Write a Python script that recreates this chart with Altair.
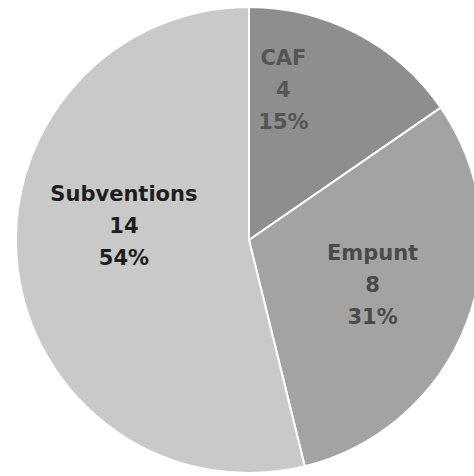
import altair as alt
import pandas as pd

categories = ["CAF", "Empunt", "Subventions"]
values = [4, 8, 14]
percents = ["15%", "31%", "54%"]
colors = ["#8e8e8e", "#a3a3a3", "#c9c9c9"]

df = pd.DataFrame({
    "cat": categories,
    "val": values,
    "pct": percents,
    "idx": list(range(len(categories))),
})
df["label"] = df["cat"] + "\n" + df["val"].astype(str) + "\n" + df["pct"]

base = alt.Chart(df).encode(
    theta=alt.Theta("val:Q", stack=True),
    order=alt.Order("idx:Q"),
)

arcs = base.mark_arc(outerRadius=233, stroke="white", strokeWidth=2).encode(
    color=alt.Color("cat:N", scale=alt.Scale(domain=categories, range=colors), legend=None)
)

label_styles = {
    "CAF": dict(radius=130, dx=-26, dy=-66, color="#555555"),
    "Empunt": dict(radius=130, dx=2, dy=-32, color="#4a4a4a"),
    "Subventions": dict(radius=126, dx=0, dy=-60, color="#1e1e1e"),
}

layers = [arcs]
for cat in categories:
    st = label_styles[cat]
    layers.append(
        base.mark_text(
            radius=st["radius"], dx=st["dx"], dy=st["dy"], color=st["color"],
            font="DejaVu Sans", fontWeight="bold", fontSize=21, lineHeight=32,
            lineBreak="\n", align="center", baseline="middle",
        ).encode(
            text=alt.condition(alt.datum.cat == cat, alt.Text("label:N"), alt.value(""))
        )
    )

chart = alt.layer(*layers).properties(
    width=450, height=472,
    autosize=alt.AutoSizeParams(type="none"),
    padding={"left": 24, "top": 4, "right": 0, "bottom": 0},
    background="white",
).configure_view(stroke=None)

chart.save("out.html", embed_options={"renderer": "svg", "actions": False})
